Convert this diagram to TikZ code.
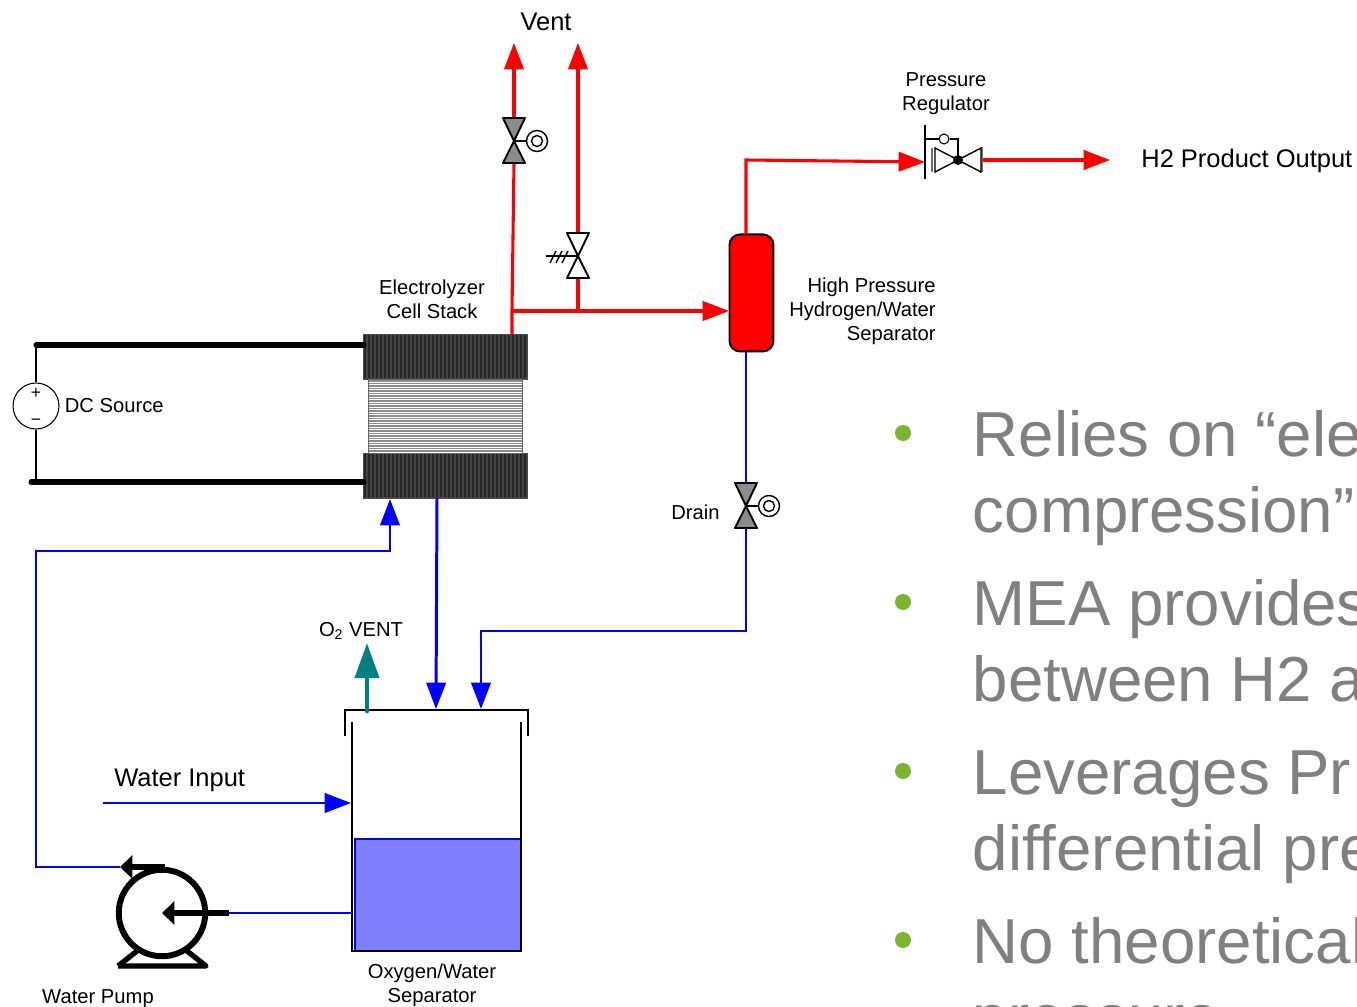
\documentclass[tikz,border=0pt]{standalone}
\usepackage{fontspec}
\setmainfont{Liberation Sans}
\usetikzlibrary{arrows.meta, positioning}
\definecolor{pipered}{RGB}{255,0,0}
\definecolor{pipeblue}{RGB}{0,0,255}
\definecolor{ventteal}{RGB}{0,128,128}
\definecolor{waterfill}{RGB}{128,128,255}
\definecolor{platedark}{RGB}{68,68,68}
\definecolor{bulletgreen}{RGB}{122,181,46}
\definecolor{slidegray}{RGB}{128,128,128}
\tikzset{
  redpipe/.style={draw=pipered, line width=1.75pt},
  bluepipe/.style={draw=pipeblue, line width=1.7pt},
  redflow/.style={redpipe, -{Triangle[length=15pt, width=11pt]}},
  blueflow/.style={bluepipe, -{Triangle[length=15pt, width=11pt]}},
  blackline/.style={draw=black, line width=0.8pt},
  smalllabel/.style={font=\fontsize{11.5}{13.6}\selectfont, inner sep=0pt},
  biglabel/.style={font=\fontsize{14.5}{17}\selectfont, inner sep=0pt},
  slidetext/.style={font=\fontsize{36.2}{43}\selectfont, text=slidegray, inner sep=0pt, anchor=base west},
}
% valve body at (#1,#2): two triangles, filled with #3
\newcommand{\bowvalve}[3]{
  \draw[blackline, line width=1.1pt, fill=#3, line join=round] (#1-11,#2-23) -- (#1+11,#2-23) -- (#1,#2) -- cycle;
  \draw[blackline, line width=1.1pt, fill=#3, line join=round] (#1-11,#2+22) -- (#1+11,#2+22) -- (#1,#2) -- cycle;
}
% hand wheel to the right of a valve
\newcommand{\handwheel}[2]{
  \draw[blackline] (#1,#2) -- (#1+12,#2);
  \draw[blackline, fill=white] (#1+23,#2) circle (10.5);
  \draw[blackline] (#1+23,#2) circle (5.5);
}
\begin{document}
\begin{tikzpicture}[x=0.02cm, y=-0.02cm]
\useasboundingbox (0,0) rectangle (1357,1007);
\clip (0,0) rectangle (1357,1007);

% stack
\node[draw=black!70, fill=platedark, minimum width=3.28cm, minimum height=0.9cm, inner sep=0pt, anchor=north west] (platetop) at (363,334) {};
\node[draw=black!70, fill=platedark, minimum width=3.28cm, minimum height=0.9cm, inner sep=0pt, anchor=north west] (platebot) at (363,453) {};
\node[draw=black!60, fill=white, minimum width=3.08cm, minimum height=1.48cm, inner sep=0pt, anchor=north west] (cells) at (368,379) {};
\foreach \x in {365,369,...,526} {
  \draw[black!85, line width=0.6pt] (\x,335) -- (\x,378);
  \draw[black!85, line width=0.6pt] (\x,454) -- (\x,497);
}
\foreach \y in {381,383.5,...,452} \draw[black!45, line width=0.7pt] (369,\y) -- (522,\y);
\node[smalllabel, align=center] (stacklabel) at (432,299) {Electrolyzer\\Cell Stack};

% dc source
\node[draw=black, circle, minimum size=0.92cm, inner sep=0pt, line width=0.6pt] (dc) at (36,406) {};
\node[inner sep=0pt, font=\fontsize{10}{10}\selectfont] (dcplus) at (36,393) {+};
\node[inner sep=0pt, font=\fontsize{10}{10}\selectfont] (dcminus) at (36,422) {\textminus};
\node[smalllabel, anchor=west] (dclabel) at (64.5,406) {DC Source};
\coordinate (bustop) at (36,345);
\coordinate (busbot) at (36,482);
\coordinate (busbotend) at (31,482);
\coordinate (bustopend) at (364,345);
\coordinate (busbotin) at (364,482);
\draw[blackline, line width=0.6pt] (dc.north) -- (bustop);
\draw[blackline, line width=0.6pt] (dc.south) -- (busbot);
\draw[line width=2.9pt, line cap=round] (bustop) -- (bustopend);
\draw[line width=2.9pt, line cap=round] (busbotend) -- (busbotin);

% separator and red side
\node[draw=black, fill=pipered, rounded corners=6pt, line width=1.1pt, minimum width=0.88cm, minimum height=2.34cm, inner sep=0pt, anchor=north west] (hpsep) at (728.5,233.5) {};
\node[smalllabel, align=right, anchor=east] (hpsepl) at (936,311.5) {High Pressure\\Hydrogen/Water\\Separator};
\coordinate (stackout) at (512,334);
\coordinate (redtee) at (512,311);
\coordinate (tee2) at (578,311);
\coordinate (sepin) at (729,311);
\coordinate (ventA) at (514,43);
\coordinate (ventB) at (578,43);
\coordinate (v1top) at (514,118);
\coordinate (v1bot) at (514,163);
\coordinate (v2top) at (578,234);
\coordinate (v2bot) at (578,277);
\coordinate (septop) at (746,234);
\coordinate (sepcorner) at (746,160);
\coordinate (regin) at (925,162);
\coordinate (regout) at (983,160);
\coordinate (h2out) at (1110,160);
\draw[redpipe] (stackout) -- (redtee) -- (v1bot);
\draw[redflow] (redtee) -- (sepin);
\draw[redpipe] (tee2) -- (v2bot);
\draw[redflow] (v1top) -- (ventA);
\draw[redflow] (v2top) -- (ventB);
\draw[redflow] (septop) -- (sepcorner) -- (regin);
\draw[redflow] (regout) -- (h2out);
\node[biglabel] (ventl) at (546,21.5) {Vent};
\node[biglabel, anchor=west] (h2l) at (1141,160.5) {H2 Product Output};

% valves
\bowvalve{514}{141}{black!45}
\handwheel{514}{141}
\bowvalve{578}{256}{white}
\draw[blackline] (546,256) -- (578,256);
\foreach \x in {550,556,562} \draw[blackline] (\x,263) -- (\x+6,251);
\bowvalve{746}{506}{black!45}
\handwheel{746}{506}
\node[smalllabel, anchor=east] (drainl) at (720,512) {Drain};

% regulator
\node[smalllabel, align=center] (regl) at (946,94) {Pressure\\Regulator};
\draw[blackline] (925,125) -- (925,179);
\draw[blackline] (925,139) -- (939,139);
\node[draw=black, fill=white, circle, minimum size=0.2cm, inner sep=0pt, line width=0.6pt] (regc) at (944,139) {};
\draw[blackline] (regc.east) -- (958,139) -- (958,160);
\draw[black!55, line width=1.1pt] (932,148) -- (932,172);
\draw[black!55, line width=1.1pt] (982,147) -- (982,172);
\draw[blackline, fill=white] (935,148) -- (935,172) -- (958,160) -- cycle;
\draw[blackline, fill=white] (981,148) -- (981,172) -- (958,160) -- cycle;
\fill[black] (958,160) circle (5);

% tank
\node[draw=pipeblue, fill=waterfill, line width=1.1pt, minimum width=3.32cm, minimum height=2.24cm, inner sep=0pt, anchor=north west] (water) at (354,838) {};
\coordinate (tankl) at (352,722);
\coordinate (tankr) at (521,722);
\draw[blackline] (tankl) -- (352,951) -- (521,951) -- (tankr);
\draw[blackline] (345,736) -- (345,710) -- (528,710) -- (528,736);
\node[smalllabel, align=center] (tankname) at (432,985.5) {Oxygen/Water\\Separator};
\coordinate (tanktopA) at (436,709);
\coordinate (tanktopB) at (481,709);
\coordinate (stackbot) at (437,498);
\coordinate (sepbot) at (746,351);
\coordinate (v3top) at (746,483);
\coordinate (v3bot) at (746,528);
\coordinate (drainc) at (746,631);
\coordinate (draind) at (481,631);
\draw[bluepipe] (sepbot) -- (v3top);
\draw[blueflow] (v3bot) -- (drainc) -- (draind) -- (tanktopB);
\draw[blueflow] (stackbot) -- (tanktopA);

% o2 vent
\coordinate (o2a) at (367,711);
\coordinate (o2b) at (367,643);
\draw[draw=ventteal, line width=2.8pt, line cap=round, -{Triangle[length=20pt, width=13.5pt]}] (o2a) -- (o2b);
\node[smalllabel] (o2l) at (361,631) {O\textsubscript{2} VENT};

% water input
\coordinate (wat0) at (103,803);
\coordinate (wat1) at (351,803);
\draw[blueflow] (wat0) -- (wat1);
\node[biglabel, anchor=west] (watl) at (114,780) {Water Input};

% pump
\node[draw=black, circle, line width=3.4pt, minimum size=1.73cm, inner sep=0pt] (pump) at (162,913) {};
\draw[line width=3pt, line join=round] (118,966) -- (206,966) -- (187,951);
\draw[line width=3pt, line join=round] (118,966) -- (137,951);
\coordinate (pumpin) at (229,913);
\coordinate (pumpout) at (120,867);
\coordinate (pumptop) at (165,867);
\coordinate (tankout) at (352,913);
\coordinate (feedA) at (36,867);
\coordinate (feedB) at (36,551);
\coordinate (feedC) at (390,551);
\coordinate (stackin) at (390,499);
\draw[bluepipe] (tankout) -- (pumpin);
\draw[line width=2.9pt, -{Triangle[length=7pt, width=13pt]}] (pumpin) -- (pump.center);
\draw[bluepipe, -{Triangle[length=15pt, width=11pt]}] (pumpout) -- (feedA) -- (feedB) -- (feedC) -- (stackin);
\draw[line width=2.9pt, -{Triangle[length=7pt, width=13pt]}] (pumptop) -- (pumpout);
\node[smalllabel] (pumpl) at (98,999) {Water Pump};

% slide text
\foreach \y/\n in {433/a, 602/b, 771/c, 940/d}
  \node[circle, fill=bulletgreen, minimum size=0.32cm, inner sep=0pt] (dot\n) at (903,\y) {};
\foreach \y/\n/\t in {456.5/a/Relies on “ele, 532.5/b/compression”, 625.5/c/MEA provides, 701.5/d/between H2 a, 794.5/e/Leverages Pr, 870.5/f/differential pre, 963.5/g/No theoretical, 1039.5/h/pressure}
  \node[slidetext] (line\n) at (972.5,\y) {\t};
\end{tikzpicture}
\end{document}
